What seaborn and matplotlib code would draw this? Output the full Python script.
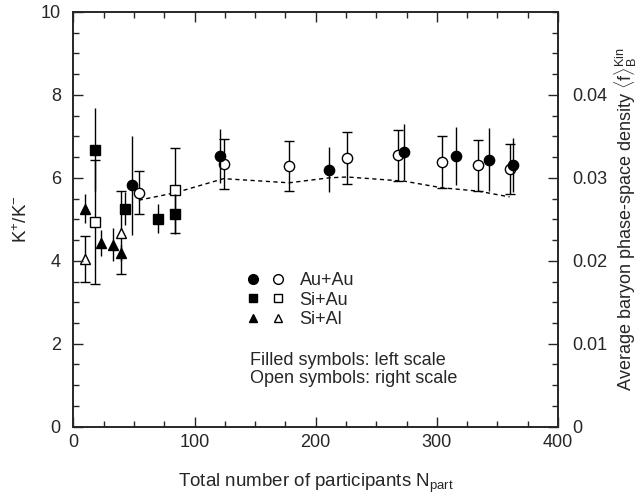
import numpy as np
import pandas as pd
import matplotlib
matplotlib.use("Agg")
import matplotlib.pyplot as plt
import seaborn as sns
from matplotlib.legend_handler import HandlerTuple
from matplotlib.lines import Line2D
from matplotlib.ticker import MultipleLocator

# K+/K- ratios (left scale)
auau_x = [48, 121, 211, 273, 316, 343, 363]
auau_k = [5.82, 6.52, 6.20, 6.62, 6.52, 6.44, 6.32]
auau_k_err = [1.2, 0.65, 0.55, 0.68, 0.70, 0.75, 0.65]

siau_x = [18, 43, 70, 84]
siau_k = [6.68, 5.26, 5.01, 5.13]
siau_k_err = [1.0, 0.40, 0.35, 0.48]

sial_x = [10, 23, 33, 39]
sial_k = [5.25, 4.43, 4.39, 4.19]
sial_k_err = [0.35, 0.32, 0.40, 0.20]

# baryon phase-space density (right scale)
auau_fx = [54, 124, 178, 226, 268, 304, 334, 360]
auau_f = [0.0282, 0.0317, 0.0314, 0.0324, 0.0327, 0.0319, 0.0315, 0.0311]
auau_f_err = [0.0026, 0.0030, 0.0030, 0.0031, 0.0031, 0.0031, 0.0031, 0.0030]

siau_fx = [18, 84]
siau_f = [0.0247, 0.0285]
siau_f_err = [0.0075, 0.0051]

sial_fx = [10, 39]
sial_f = [0.0202, 0.0234]
sial_f_err = [0.0028, 0.0050]

# dashed curve
curve_x = [54, 84, 124, 178, 211, 226, 273, 304, 334, 360]
curve_f = [0.0273, 0.0282, 0.0299, 0.0294, 0.0300, 0.0301, 0.0296, 0.0288, 0.0284, 0.0277]

sns.set_style("ticks")
plt.rcParams['font.family'] = ['Liberation Sans', 'DejaVu Sans']
plt.rcParams['mathtext.fontset'] = 'custom'
plt.rcParams['mathtext.rm'] = 'Liberation Sans'
plt.rcParams['mathtext.it'] = 'Liberation Sans:italic'
plt.rcParams['xtick.direction'] = 'in'
plt.rcParams['ytick.direction'] = 'in'

fs = 13

fig = plt.figure(figsize=(6.4, 4.97), dpi=100)
ax = fig.add_axes([0.1146, 0.1415, 0.7574, 0.8345])
ax2 = ax.twinx()

eb = dict(ecolor='black', elinewidth=1.0, linestyle='none')

# open symbols on the right scale
sns.lineplot(x=curve_x, y=curve_f, ax=ax2, color='black', linestyle=(0, (3, 2.5)), linewidth=1.0)
ax2.errorbar(auau_fx, auau_f, yerr=auau_f_err, fmt='o', mfc='white', mec='black', mew=1.0,
             ms=7.4, capsize=3.6, **eb)
ax2.errorbar(siau_fx, siau_f, yerr=siau_f_err, fmt='s', mfc='white', mec='black', mew=1.0,
             ms=6.8, capsize=3.6, **eb)
ax2.errorbar(sial_fx, sial_f, yerr=sial_f_err, fmt='^', mfc='white', mec='black', mew=1.0,
             ms=7.2, capsize=3.6, **eb)

# filled symbols on the left scale
ax.errorbar(auau_x, auau_k, yerr=auau_k_err, fmt='o', color='black', ms=7.4, capsize=0, **eb)
ax.errorbar(siau_x, siau_k, yerr=siau_k_err, fmt='s', color='black', ms=6.8, capsize=0, **eb)
ax.errorbar(sial_x, sial_k, yerr=sial_k_err, fmt='^', color='black', ms=7.2, capsize=0, **eb)

ax.set_zorder(ax2.get_zorder() + 1)
ax.patch.set_visible(False)

ax.set_xlim(0, 400)
ax.set_ylim(0, 10)
ax2.set_ylim(0, 0.05)
ax.xaxis.set_major_locator(MultipleLocator(100))
ax.xaxis.set_minor_locator(MultipleLocator(25))
ax.yaxis.set_major_locator(MultipleLocator(2))
ax.yaxis.set_minor_locator(MultipleLocator(0.5))
ax2.set_yticks([0, 0.01, 0.02, 0.03, 0.04])
ax2.set_yticklabels(['0', '0.01', '0.02', '0.03', '0.04'])
ax2.yaxis.set_minor_locator(MultipleLocator(0.0025))

ax.tick_params(which='both', top=True, right=False, labelsize=fs, width=1.0)
ax.tick_params(which='major', length=7.5)
ax.tick_params(which='minor', length=4)
ax.tick_params(axis='y', pad=9)
ax.tick_params(axis='x', pad=5)
ax2.tick_params(which='both', labelsize=fs, width=1.0)
ax2.tick_params(which='major', length=7.5, pad=10)
ax2.tick_params(which='minor', length=4)
for a in (ax, ax2):
    for s in a.spines.values():
        s.set_linewidth(1.2)
        s.set_visible(True)

ax.set_xlabel(r"Total number of participants N$_{\mathrm{part}}$", fontsize=13.5, labelpad=15)
ax.set_ylabel(r"K$^{+}$/K$^{-}$", fontsize=13.5, labelpad=7)
ax2.set_ylabel(r"Average baryon phase-space density $\langle\mathrm{f}\rangle_{\mathrm{B}}^{\mathrm{Kin}}$",
               fontsize=fs, labelpad=4)

# legend: filled + open symbol pairs
def pair(marker, size):
    filled = Line2D([], [], marker=marker, color='black', linestyle='none', ms=size)
    empty = Line2D([], [], marker=marker, mfc='white', mec='black', mew=1.0, linestyle='none', ms=size)
    return (filled, empty)

ax.legend([pair('o', 7.0), pair('s', 6.4), pair('^', 6.4)], ['Au+Au', 'Si+Au', 'Si+Al'],
          handler_map={tuple: HandlerTuple(ndivide=None, pad=0.55)},
          loc='upper left', bbox_to_anchor=(0.355, 0.373), frameon=False,
          fontsize=fs, handlelength=2.2, handletextpad=0.8, labelspacing=0.15,
          borderpad=0, borderaxespad=0)
ax.text(0.365, 0.138, "Filled symbols: left scale\nOpen symbols: right scale", transform=ax.transAxes,
        fontsize=fs, va='center', ha='left', linespacing=1.05)

fig.savefig("out.png", dpi=100)
